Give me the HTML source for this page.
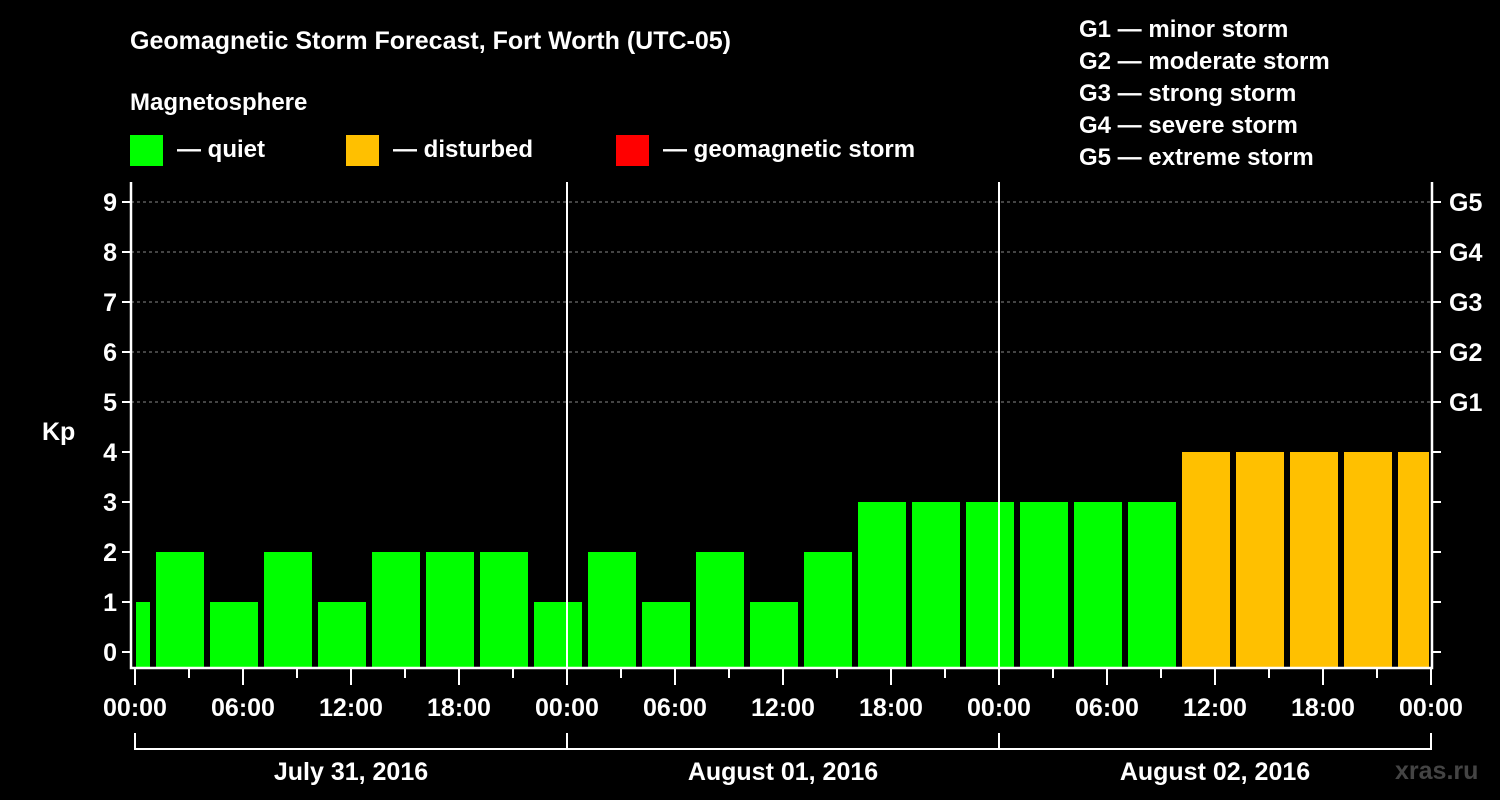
<!DOCTYPE html>
<html><head><meta charset="utf-8"><style>
body{margin:0;background:#000;}
svg{display:block;font-family:"Liberation Sans",Arial,sans-serif;font-weight:bold;}
</style></head><body>
<svg id="c" width="1500" height="800">
<rect width="1500" height="800" fill="#000"/>
<text x="130" y="49" fill="#fff" font-size="25">Geomagnetic Storm Forecast, Fort Worth (UTC-05)</text>
<text x="130" y="110" fill="#fff" font-size="24">Magnetosphere</text>
<g><rect x="130" y="135" width="33" height="31" fill="#00ff00"/><text x="177" y="157" fill="#fff" font-size="24">— quiet</text></g>
<g><rect x="346" y="135" width="33" height="31" fill="#ffc000"/><text x="393" y="157" fill="#fff" font-size="24">— disturbed</text></g>
<g><rect x="616" y="135" width="33" height="31" fill="#ff0000"/><text x="663" y="157" fill="#fff" font-size="24">— geomagnetic storm</text></g>
<g fill="#fff" font-size="24">
<text x="1079" y="37">G1 — minor storm</text>
<text x="1079" y="69">G2 — moderate storm</text>
<text x="1079" y="101">G3 — strong storm</text>
<text x="1079" y="133">G4 — severe storm</text>
<text x="1079" y="165">G5 — extreme storm</text>
</g>
<text x="42" y="440" fill="#fff" font-size="25">Kp</text>
<text x="1395" y="779" fill="#444" font-size="25">xras.ru</text>
<g id="g"></g>
</svg>
<script>
const values=[1,2,1,2,1,2,2,2,1,2,1,2,1,2,3,3,3,3,3,3,4,4,4,4,4];
const yTicks=[0,1,2,3,4,5,6,7,8,9];
const gLabels=["G1","G2","G3","G4","G5"];
const xLabels=["00:00","06:00","12:00","18:00","00:00","06:00","12:00","18:00","00:00","06:00","12:00","18:00","00:00"];
const dayLabels=["July 31, 2016","August 01, 2016","August 02, 2016"];
const NS="http://www.w3.org/2000/svg";
const g=document.getElementById('g');
const X0=135,PXH=18,Y0=652,PY=50,L=131,R=1432,T=182,B=668;
const x=h=>X0+h*PXH, y=v=>Y0-v*PY;
function mk(t,a,p){const e=document.createElementNS(NS,t);for(const k in a)e.setAttribute(k,a[k]);(p||g).appendChild(e);return e;}
// grid
yTicks.forEach(v=>{if(v>=5){const l=mk('line',{x1:L,x2:R,y1:y(v),y2:y(v),stroke:'#888','stroke-dasharray':'3,3','stroke-width':1});

}});
// bars: first slot starts at -2h (local 22:00 previous day)
values.forEach((v,i)=>{const s=-2+i*3;let a=x(s)+3,b=x(s+3)-3;a=Math.max(a,x(0)+1);b=Math.min(b,x(72)-2);
const r=mk('rect',{x:a,y:y(v),width:b-a,height:B-1-y(v),fill:v>=5?'#ff0000':(v>=4?'#ffc000':'#00ff00')});

});
// axes
const ax=mk('path',{d:`M${L} ${T}V${B}H${R}V${T}`,stroke:'#fff','stroke-width':2.5,fill:'none'});


[24,48].forEach(h=>{const l=mk('line',{x1:x(h),x2:x(h),y1:T,y2:B,stroke:'#fff','stroke-width':2});

});
yTicks.forEach(v=>{mk('line',{x1:L-9,x2:L,y1:y(v),y2:y(v),stroke:'#fff','stroke-width':2});
mk('line',{x1:R,x2:R+9,y1:y(v),y2:y(v),stroke:'#fff','stroke-width':2});
const t=mk('text',{x:L-14,y:y(v)+9,fill:'#fff','font-size':25,'text-anchor':'end'});t.textContent=v;

});
gLabels.forEach((s,i)=>{const t=mk('text',{x:1449,y:y(5+i)+9,fill:'#fff','font-size':25});t.textContent=s;

});
for(let h=0;h<=72;h+=3){const maj=h%6==0;mk('line',{x1:x(h),x2:x(h),y1:B,y2:maj?685:678,stroke:'#fff','stroke-width':2});}
xLabels.forEach((s,i)=>{const t=mk('text',{x:x(i*6),y:716,fill:'#fff','font-size':25,'text-anchor':'middle'});t.textContent=s;

});
mk('path',{d:`M${x(0)} 733V749H${x(72)}V733M${x(24)} 733V749M${x(48)} 733V749`,stroke:'#fff','stroke-width':2,fill:'none'});
dayLabels.forEach((s,i)=>{const t=mk('text',{x:x(i*24+12),y:780,fill:'#fff','font-size':25,'text-anchor':'middle'});t.textContent=s;

});
</script>
</body></html>
